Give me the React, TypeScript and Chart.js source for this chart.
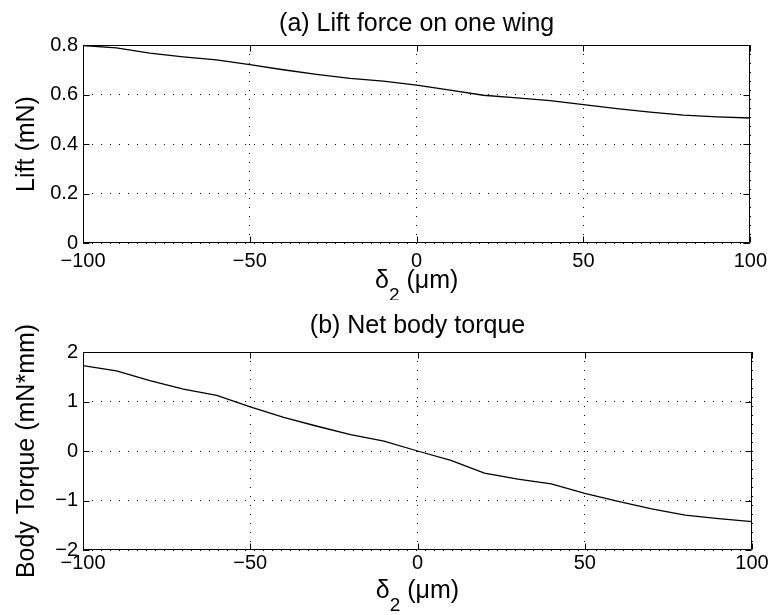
import React, { useEffect, useRef } from "react";
import { Chart, registerables } from "chart.js";
Chart.register(...registerables);

// ---- data ----
const delta2 = [-100, -90, -80, -70, -60, -50, -40, -30, -20, -10, 0, 10, 20, 30, 40, 50, 60, 70, 80, 90, 100];
const lift = [0.798, 0.788, 0.767, 0.752, 0.740, 0.721, 0.700, 0.681, 0.665, 0.654, 0.638, 0.618, 0.597, 0.586, 0.575, 0.559, 0.543, 0.529, 0.517, 0.510, 0.505];
const torque = [1.725, 1.62, 1.42, 1.25, 1.125, 0.89, 0.68, 0.50, 0.33, 0.20, 0.0, -0.19, -0.445, -0.568, -0.666, -0.858, -1.02, -1.17, -1.295, -1.365, -1.425];
const xTicks = [-100, -50, 0, 50, 100];
const liftTicks = [0, 0.2, 0.4, 0.6, 0.8];
const torqueTicks = [-2, -1, 0, 1, 2];
const titleA = "(a) Lift force on one wing";
const titleB = "(b) Net body torque";
const yLabelA = "Lift (mN)";
const yLabelB = "Body Torque (mN*mm)";
const xLabelMain = "δ";
const xLabelSub = "2";
const xLabelUnit = " (μm)";

const FONT = '"Liberation Sans", Arial, Helvetica, sans-serif';
const fmt = (v: number) => String(v).replace("-", "\u2212");

function framePlugin(title: string, titleBase: number, xlabBase: number) {
  return {
    id: "matlabFrame",
    afterDraw(chart: any) {
      const { ctx, chartArea: a, scales } = chart;
      ctx.save();
      ctx.setLineDash([]);
      ctx.strokeStyle = "#000";
      ctx.lineWidth = 1;
      const L = Math.round(a.left) + 0.5;
      const R = Math.round(a.right) - 0.5;
      const T = Math.round(a.top) + 0.5;
      const B = Math.round(a.bottom) - 0.5;
      ctx.beginPath();
      ctx.rect(L, T, R - L, B - T);
      const TL = 6;
      scales.x.ticks.forEach((t: any) => {
        const px = Math.round(scales.x.getPixelForValue(t.value)) + 0.5;
        ctx.moveTo(px, B);
        ctx.lineTo(px, B - TL);
        ctx.moveTo(px, T);
        ctx.lineTo(px, T + TL);
      });
      scales.y.ticks.forEach((t: any) => {
        const py = Math.round(scales.y.getPixelForValue(t.value)) + 0.5;
        ctx.moveTo(L, py);
        ctx.lineTo(L + TL, py);
        ctx.moveTo(R, py);
        ctx.lineTo(R - TL, py);
      });
      ctx.stroke();

      ctx.fillStyle = "#000";
      ctx.textBaseline = "alphabetic";
      const cx = (a.left + a.right) / 2;
      ctx.font = `25px ${FONT}`;
      ctx.textAlign = "center";
      ctx.fillText(title, cx, titleBase);

      ctx.textAlign = "left";
      const mainFont = `25px ${FONT}`;
      const subFont = `19px ${FONT}`;
      ctx.font = mainFont;
      const w1 = ctx.measureText(xLabelMain).width;
      const w3 = ctx.measureText(xLabelUnit).width;
      ctx.font = subFont;
      const w2 = ctx.measureText(xLabelSub).width;
      let x = cx - (w1 + w2 + w3) / 2;
      ctx.font = mainFont;
      ctx.fillText(xLabelMain, x, xlabBase);
      ctx.font = subFont;
      ctx.fillText(xLabelSub, x + w1, xlabBase + 13);
      ctx.font = mainFont;
      ctx.fillText(xLabelUnit, x + w1 + w2, xlabBase);
      ctx.restore();
    },
  };
}

function makeConfig(
  values: number[],
  yTicks: number[],
  yLabel: string,
  title: string,
  padTop: number,
  xAxisH: number,
  xTickPad: number,
  titleBase: number,
  xlabBase: number
): any {
  return {
    type: "line",
    data: {
      datasets: [
        {
          data: delta2.map((x, i) => ({ x, y: values[i] })),
          borderColor: "#000",
          borderWidth: 1.3,
          pointRadius: 0,
          tension: 0,
          fill: false,
        },
      ],
    },
    options: {
      animation: false,
      responsive: false,
      devicePixelRatio: 1,
      layout: { padding: { top: padTop, right: 21, left: 0, bottom: 0 } },
      plugins: { legend: { display: false }, tooltip: { enabled: false }, title: { display: false } },
      scales: {
        x: {
          type: "linear",
          min: xTicks[0],
          max: xTicks[xTicks.length - 1],
          afterBuildTicks: (axis: any) => {
            axis.ticks = xTicks.map((v) => ({ value: v }));
          },
          afterFit: (s: any) => {
            s.height = xAxisH;
          },
          ticks: {
            callback: (v: number) => fmt(v),
            color: "#000",
            font: { family: FONT, size: 20 },
            padding: xTickPad,
            maxRotation: 0,
            autoSkip: false,
          },
          grid: { color: "#000", lineWidth: 1, drawTicks: false },
          border: { display: false, dash: [1, 8] },
        },
        y: {
          type: "linear",
          min: yTicks[0],
          max: yTicks[yTicks.length - 1],
          afterBuildTicks: (axis: any) => {
            axis.ticks = yTicks.map((v) => ({ value: v }));
          },
          afterFit: (s: any) => {
            s.width = 83;
          },
          ticks: {
            callback: (v: number) => fmt(v),
            color: "#000",
            font: { family: FONT, size: 20 },
            padding: 5,
            autoSkip: false,
          },
          grid: { color: "#000", lineWidth: 1, drawTicks: false },
          border: { display: false, dash: [1, 8] },
          title: {
            display: true,
            text: yLabel,
            color: "#000",
            font: { family: FONT, size: 25 },
            padding: { top: 12, bottom: 0 },
          },
        },
      },
    },
    plugins: [framePlugin(title, titleBase, xlabBase)],
  };
}

function Panel(props: { height: number; top: number; config: any }) {
  const ref = useRef<HTMLCanvasElement | null>(null);
  useEffect(() => {
    if (!ref.current) return;
    const chart = new Chart(ref.current, props.config);
    return () => chart.destroy();
  }, []);
  return (
    <canvas
      ref={ref}
      width={773}
      height={props.height}
      style={{ position: "absolute", left: 0, top: props.top, width: 773, height: props.height }}
    />
  );
}

export default function App() {
  const cfgA = makeConfig(lift, liftTicks, yLabelA, titleA, 45, 57, 6, 31, 288);
  const cfgB = makeConfig(torque, torqueTicks, yLabelB, titleB, 52, 65, 1, 33, 298);
  return (
    <div style={{ position: "absolute", left: 0, top: 0, width: 773, height: 615, background: "#fff" }}>
      <Panel height={300} top={0} config={cfgA} />
      <Panel height={315} top={300} config={cfgB} />
    </div>
  );
}
